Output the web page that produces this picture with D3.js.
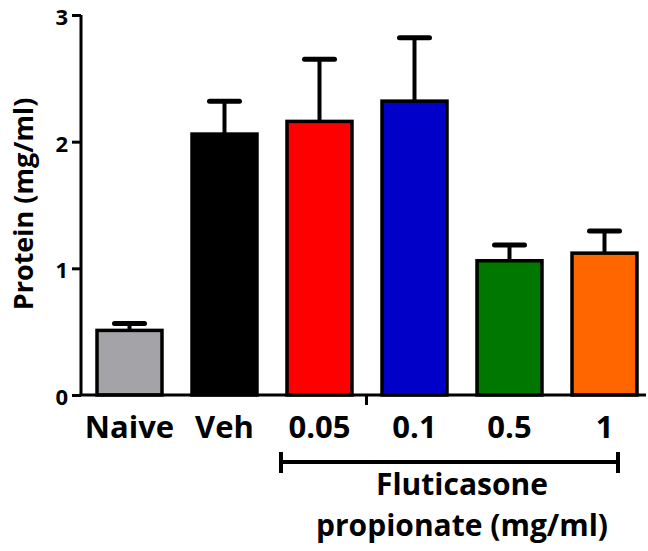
<!DOCTYPE html>
<html>
<head>
<meta charset="utf-8">
<script src="https://cdn.jsdelivr.net/npm/d3@7"></script>
<style>
  html, body { margin: 0; padding: 0; background: #fff; }
  svg { display: block; font-family: "Open Sans", Lato, sans-serif; font-weight: bold; }
</style>
</head>
<body>
<div id="chart"></div>
<script>
const categories = ["Naive", "Veh", "0.05", "0.1", "0.5", "1"];
const means = [0.51, 2.06, 2.16, 2.32, 1.06, 1.12];
const sems = [0.055, 0.26, 0.49, 0.5, 0.125, 0.175];
const colors = ["#a3a3a8", "#000000", "#ff0000", "#0000c8", "#007800", "#ff6600"];
const yTicks = [0, 1, 2, 3];
const groupLabel = ["Fluticasone", "propionate (mg/ml)"];

const width = 648, height = 551;

const svg = d3.select("#chart")
  .append("svg")
  .attr("width", width)
  .attr("height", height);

const x = d3.scaleBand()
  .domain(categories)
  .range([82, 652])
  .paddingInner(0.316)
  .paddingOuter(0.158);

const y = d3.scaleLinear().domain([0, 3]).range([395, 15]);

const data = categories.map((c, i) => ({ cat: c, mean: means[i], sem: sems[i], color: colors[i] }));

// error bars (drawn first so bar outline sits on top)
const err = svg.append("g");
err.selectAll("line.stem")
  .data(data)
  .join("line")
  .attr("x1", d => x(d.cat) + x.bandwidth() / 2)
  .attr("x2", d => x(d.cat) + x.bandwidth() / 2)
  .attr("y1", d => y(d.mean))
  .attr("y2", d => y(d.mean + d.sem))
  .attr("stroke", "#000")
  .attr("stroke-width", 4);
err.selectAll("line.cap")
  .data(data)
  .join("line")
  .attr("x1", d => x(d.cat) + x.bandwidth() / 2 - 15)
  .attr("x2", d => x(d.cat) + x.bandwidth() / 2 + 15)
  .attr("y1", d => y(d.mean + d.sem))
  .attr("y2", d => y(d.mean + d.sem))
  .attr("stroke", "#000")
  .attr("stroke-width", 5)
  .attr("stroke-linecap", "round");

// bars
svg.append("g")
  .selectAll("rect")
  .data(data)
  .join("rect")
  .attr("x", d => x(d.cat))
  .attr("y", d => y(d.mean))
  .attr("width", x.bandwidth())
  .attr("height", d => y(0) - y(d.mean))
  .attr("fill", d => d.color)
  .attr("stroke", "#000")
  .attr("stroke-width", 3.5);

// y axis
const yAxis = svg.append("g")
  .attr("transform", "translate(81,0)")
  .call(d3.axisLeft(y).tickValues(yTicks).tickFormat(d3.format("d")).tickSize(9).tickPadding(4));
yAxis.select(".domain").attr("stroke-width", 3).attr("d", `M0,${y(3)}V${y(0)}`);
yAxis.selectAll(".tick line").attr("stroke-width", 3);
yAxis.selectAll(".tick text")
  .attr("font-family", "'Open Sans', sans-serif")
  .attr("font-weight", "bold")
  .attr("font-size", 22)
  .attr("dy", "0.43em")
  .attr("fill", "#000");

// x axis line
svg.append("line")
  .attr("x1", 79.5).attr("x2", 646)
  .attr("y1", y(0)).attr("y2", y(0))
  .attr("stroke", "#000")
  .attr("stroke-width", 3);
// small stray tick below axis
svg.append("line")
  .attr("x1", 366.5).attr("x2", 366.5)
  .attr("y1", y(0)).attr("y2", y(0) + 10)
  .attr("stroke", "#000")
  .attr("stroke-width", 3);

// category labels
svg.append("g")
  .selectAll("text")
  .data(categories)
  .join("text")
  .attr("x", d => x(d) + x.bandwidth() / 2)
  .attr("y", 438)
  .attr("text-anchor", "middle")
  .attr("font-size", 31)
  .text(d => d);

// y axis title
svg.append("text")
  .attr("transform", "translate(33,204) rotate(-90)")
  .attr("text-anchor", "middle")
  .attr("font-size", 27)
  .text("Protein (mg/ml)");

// bracket under the fluticasone groups
const bx0 = x("0.05") - 6, bx1 = x("1") + x.bandwidth() - 19;
const bracket = svg.append("g").attr("stroke", "#000").attr("stroke-width", 4);
bracket.append("line").attr("x1", bx0).attr("x2", bx1).attr("y1", 462).attr("y2", 462);
bracket.append("line").attr("x1", bx0).attr("x2", bx0).attr("y1", 452).attr("y2", 473);
bracket.append("line").attr("x1", bx1).attr("x2", bx1).attr("y1", 452).attr("y2", 473);

svg.append("g")
  .selectAll("text")
  .data(groupLabel)
  .join("text")
  .attr("x", 462)
  .attr("y", (d, i) => 495 + i * 41)
  .attr("text-anchor", "middle")
  .attr("font-size", 30)
  .text(d => d);
</script>
</body>
</html>
